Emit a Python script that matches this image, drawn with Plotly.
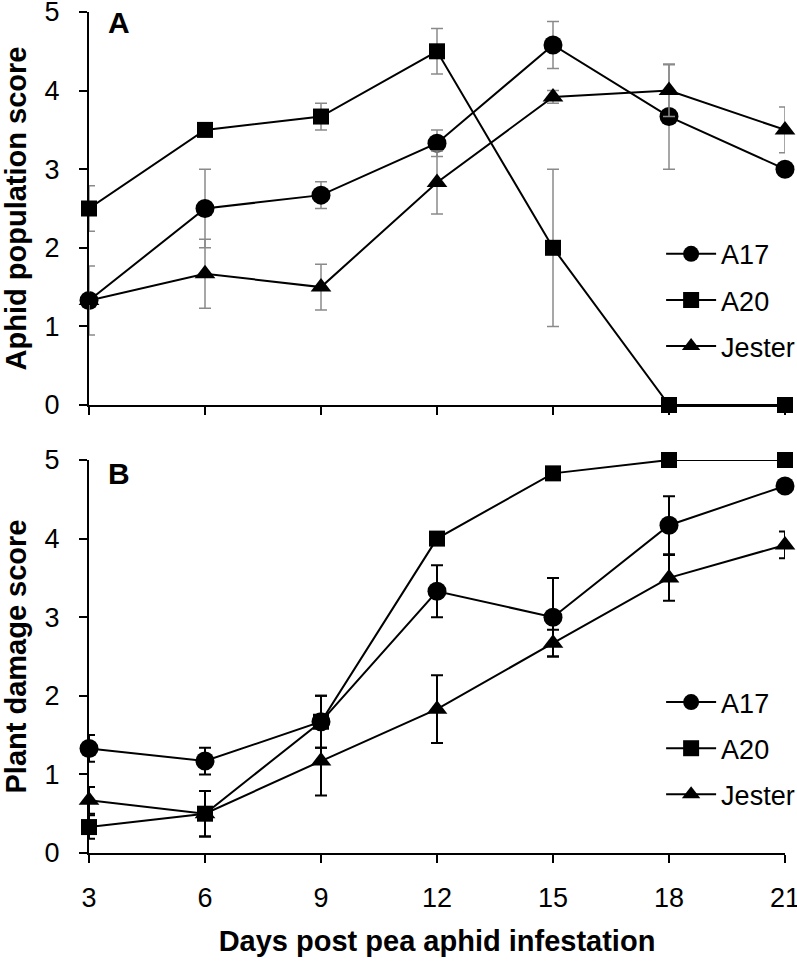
import plotly.graph_objects as go

days = [3, 6, 9, 12, 15, 18, 21]
cultivars = ["A17", "A20", "Jester"]
symbols = ["circle", "square", "triangle-up"]

# Panel A: aphid population score (mean, error)
a17_pop = [1.33, 2.5, 2.67, 3.33, 4.58, 3.67, 3.0]
a17_pop_err = [0.0, 0.5, 0.17, 0.17, 0.3, 0.67, 0.0]
a20_pop = [2.5, 3.5, 3.67, 4.5, 2.0, 0.0, 0.0]
a20_pop_err = [0.29, 0.0, 0.17, 0.29, 1.0, 0.0, 0.0]
jes_pop = [1.33, 1.67, 1.5, 2.83, 3.92, 4.0, 3.5]
jes_pop_err = [0.44, 0.44, 0.29, 0.4, 0.08, 0.33, 0.29]

# Panel B: plant damage score (mean, error)
a17_dmg = [1.33, 1.17, 1.67, 3.33, 3.0, 4.17, 4.67]
a17_dmg_err = [0.17, 0.17, 0.33, 0.33, 0.5, 0.37, 0.0]
a20_dmg = [0.33, 0.5, 1.67, 4.0, 4.83, 5.0, 5.0]
a20_dmg_err = [0.15, 0.29, 0.33, 0.0, 0.0, 0.0, 0.0]
jes_dmg = [0.67, 0.5, 1.17, 1.83, 2.67, 3.5, 3.92]
jes_dmg_err = [0.17, 0.29, 0.44, 0.43, 0.17, 0.29, 0.17]

y_ticks = [0, 1, 2, 3, 4, 5]

FONT = "Liberation Sans, Arial, sans-serif"
marker_sizes = {"circle": 19, "square": 16, "triangle-up": 18}

fig = go.Figure()

panelA = [a17_pop, a20_pop, jes_pop]
panelA_err = [a17_pop_err, a20_pop_err, jes_pop_err]
panelB = [a17_dmg, a20_dmg, jes_dmg]
panelB_err = [a17_dmg_err, a20_dmg_err, jes_dmg_err]

for name, sym, ys, es in zip(cultivars, symbols, panelA, panelA_err):
    fig.add_trace(go.Scatter(
        x=days, y=ys, name=name, mode="lines+markers",
        line=dict(color="black", width=2),
        marker=dict(symbol=sym, size=marker_sizes[sym], color="black"),
        error_y=dict(type="data", array=es, visible=True, color="#8a8a8a",
                     thickness=1.5, width=6),
        xaxis="x", yaxis="y", legend="legend", legendgroup="a" + name,
        cliponaxis=False,
    ))

for name, sym, ys, es in zip(cultivars, symbols, panelB, panelB_err):
    fig.add_trace(go.Scatter(
        x=days, y=ys, name=name, mode="lines+markers",
        line=dict(color="black", width=2),
        marker=dict(symbol=sym, size=marker_sizes[sym], color="black"),
        error_y=dict(type="data", array=es, visible=True, color="black",
                     thickness=2, width=6),
        xaxis="x2", yaxis="y2", legend="legend2", legendgroup="b" + name,
        cliponaxis=False,
    ))

axis_common = dict(showline=True, linecolor="black", linewidth=2,
                   ticks="outside", tickcolor="black", tickwidth=2, ticklen=8,
                   showgrid=False, zeroline=False, automargin=False,
                   ticklabeloverflow="allow",
                   tickfont=dict(family=FONT, size=27, color="black"))

legend_common = dict(xanchor="left", yanchor="top", bgcolor="rgba(0,0,0,0)",
                     font=dict(family=FONT, size=27, color="black"),
                     tracegroupgap=8, traceorder="grouped", itemwidth=50)

fig.update_layout(
    template="none",
    width=797, height=968,
    margin=dict(l=89, r=12, t=12, b=115, autoexpand=False),
    paper_bgcolor="white", plot_bgcolor="white",
    font=dict(family=FONT, color="black"),
    xaxis=dict(domain=[0, 1], anchor="y", range=[3, 21], tickvals=days,
               showticklabels=False, **axis_common),
    yaxis=dict(domain=[0.5327, 1], anchor="x", range=[0, 5], tickvals=y_ticks,
               ticklabelstandoff=14,
               title=dict(text="<b>Aphid population score</b>",
                          font=dict(family=FONT, size=29, color="black"),
                          standoff=16),
               **axis_common),
    xaxis2=dict(domain=[0, 1], anchor="y2", range=[3, 21], tickvals=days,
                ticklabelstandoff=12,
                title=dict(text="<b>Days post pea aphid infestation</b>",
                           font=dict(family=FONT, size=29, color="black"),
                           standoff=18),
                **axis_common),
    yaxis2=dict(domain=[0, 0.4673], anchor="x2", range=[0, 5], tickvals=y_ticks,
                ticklabelstandoff=14,
                title=dict(text="<b>Plant damage score</b>",
                           font=dict(family=FONT, size=29, color="black"),
                           standoff=16),
                **axis_common),
    legend=dict(x=0.822, y=0.741, **legend_common),
    legend2=dict(x=0.822, y=0.208, **legend_common),
    annotations=[
        dict(text="<b>A</b>", x=0.043, y=0.987, xref="paper", yref="paper",
             showarrow=False, xanchor="center", yanchor="middle",
             font=dict(family=FONT, size=30, color="black")),
        dict(text="<b>B</b>", x=0.043, y=0.451, xref="paper", yref="paper",
             showarrow=False, xanchor="center", yanchor="middle",
             font=dict(family=FONT, size=30, color="black")),
    ],
)

fig.write_html("out.html", config={"displayModeBar": False},
               post_script="document.body.style.margin='0';document.body.style.overflow='hidden';")
